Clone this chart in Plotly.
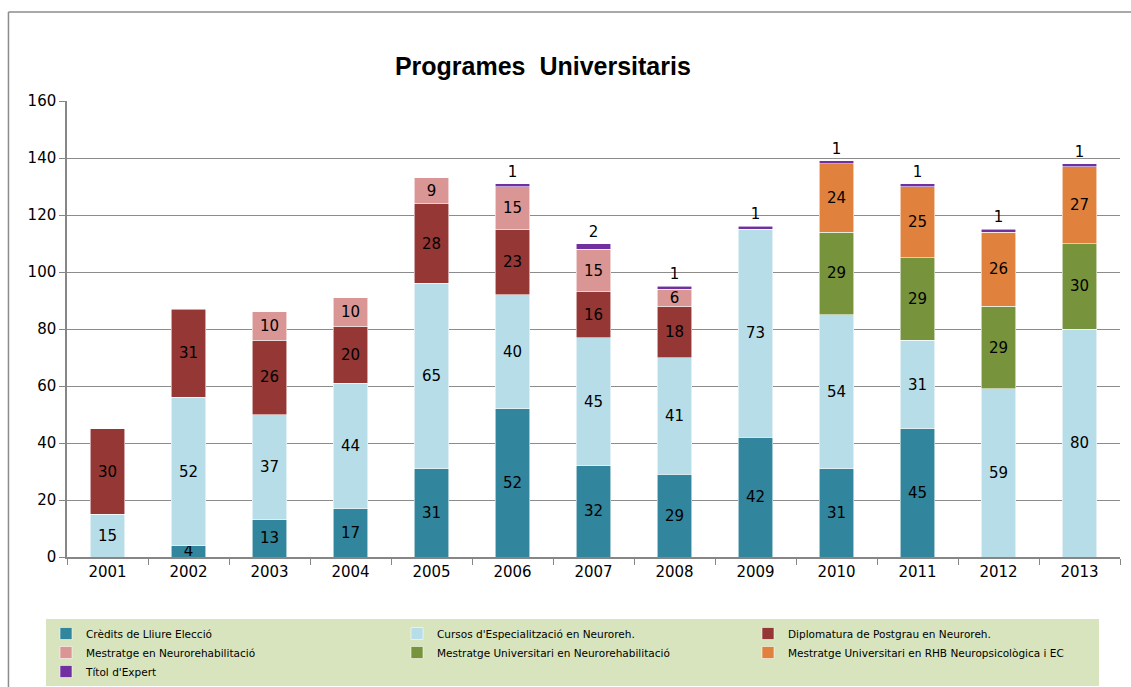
import plotly.graph_objects as go

years = ["2001", "2002", "2003", "2004", "2005", "2006", "2007",
         "2008", "2009", "2010", "2011", "2012", "2013"]

credits_lliure = [0, 4, 13, 17, 31, 52, 32, 29, 42, 31, 45, 0, 0]
cursos_especialitzacio = [15, 52, 37, 44, 65, 40, 45, 41, 73, 54, 31, 59, 80]
diplomatura_postgrau = [30, 31, 26, 20, 28, 23, 16, 18, 0, 0, 0, 0, 0]
mestratge_neuroreh = [0, 0, 10, 10, 9, 15, 15, 6, 0, 0, 0, 0, 0]
mestratge_univ_neuroreh = [0, 0, 0, 0, 0, 0, 0, 0, 0, 29, 29, 29, 30]
mestratge_univ_rhb = [0, 0, 0, 0, 0, 0, 0, 0, 0, 24, 25, 26, 27]
titol_expert = [0, 0, 0, 0, 0, 1, 2, 1, 1, 1, 1, 1, 1]

series = [
    ("Crèdits de Lliure Elecció", credits_lliure, "#31859c"),
    ("Cursos d'Especialització en Neuroreh.", cursos_especialitzacio, "#b7dee8"),
    ("Diplomatura de Postgrau en Neuroreh.", diplomatura_postgrau, "#953735"),
    ("Mestratge en Neurorehabilitació", mestratge_neuroreh, "#d99694"),
    ("Mestratge Universitari en Neurorehabilitació", mestratge_univ_neuroreh, "#77933c"),
    ("Mestratge Universitari en RHB Neuropsicològica i EC", mestratge_univ_rhb, "#e0823d"),
    ("Títol d'Expert", titol_expert, "#7030a0"),
]

fig = go.Figure()
for i, (name, vals, color) in enumerate(series):
    last = i == len(series) - 1
    fig.add_trace(go.Bar(
        name=name,
        x=years,
        y=[v if v else None for v in vals],
        text=[str(v) if v else "" for v in vals],
        textposition="outside" if last else "inside",
        insidetextanchor="middle",
        textangle=0,
        textfont=dict(family="DejaVu Sans", size=15, color="black"),
        marker=dict(color=color, line=dict(color="rgba(255,255,255,0.7)", width=0.8)),
        cliponaxis=False,
    ))

fig.update_layout(
    barmode="stack",
    bargap=0.58,
    width=1131,
    height=687,
    margin=dict(l=67, r=11, t=101, b=130, autoexpand=False),
    paper_bgcolor="white",
    plot_bgcolor="white",
    uniformtext=dict(minsize=15, mode="show"),
    title=dict(
        text="<b>Programes  Universitaris</b>",
        x=0.48, xref="container", xanchor="center",
        y=1 - 66 / 687, yref="container", yanchor="middle",
        font=dict(family="Liberation Sans", size=25, color="black"),
    ),
    font=dict(family="DejaVu Sans", color="black"),
    legend=dict(
        orientation="h",
        xref="paper", x=(46 - 67) / 1053, xanchor="left",
        yref="paper", y=(557 - 619) / 456, yanchor="top",
        bgcolor="#d7e4bd",
        entrywidth=306,
        entrywidthmode="pixels",
        traceorder="normal",
        font=dict(family="DejaVu Sans", size=10.5, color="black"),
        itemclick=False,
        tracegroupgap=0,
    ),
    xaxis=dict(
        type="category",
        showline=True, linecolor="#868686", linewidth=1.5,
        ticks="outside", tickson="boundaries", ticklen=6, tickcolor="#868686",
        tickfont=dict(family="DejaVu Sans", size=15, color="black"),
        showgrid=False,
    ),
    yaxis=dict(
        range=[0, 160], dtick=20,
        showline=True, linecolor="#868686", linewidth=1.5,
        ticks="outside", ticklen=6, tickcolor="#868686",
        tickfont=dict(family="DejaVu Sans", size=15, color="black"),
        showgrid=True, gridcolor="#8c8c8c", gridwidth=1,
        zeroline=False,
    ),
    shapes=[
        dict(type="line", xref="paper", yref="paper",
             x0=-0.0556, x1=-0.0556, y0=1.195, y1=-0.35,
             line=dict(color="#8c8c8c", width=1.5)),
        dict(type="line", xref="paper", yref="paper",
             x0=-0.0556, x1=1.02, y0=1.195, y1=1.195,
             line=dict(color="#8c8c8c", width=1.5)),
    ],
)

fig.write_html(
    "out.html",
    config={"displayModeBar": False},
    post_script="document.body.style.margin='0';document.body.style.overflow='hidden';",
)
